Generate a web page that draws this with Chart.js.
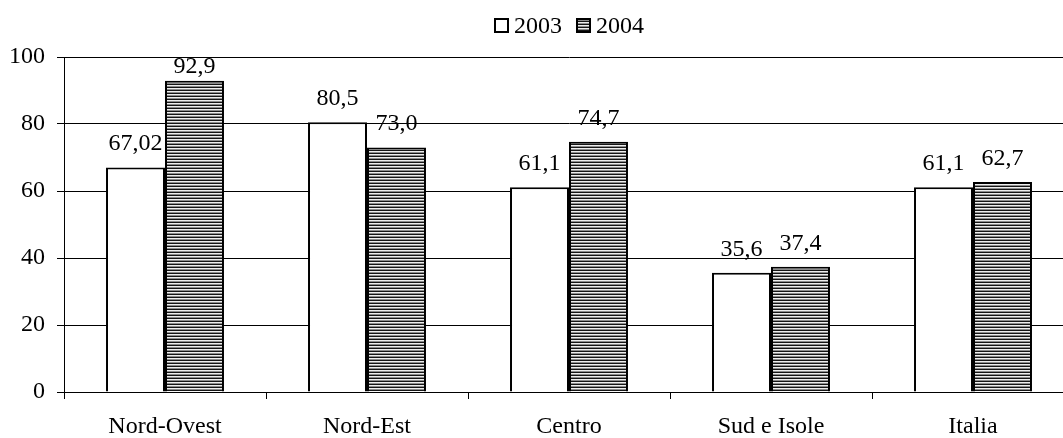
<!DOCTYPE html>
<html>
<head>
<meta charset="utf-8">
<script src="https://cdn.jsdelivr.net/npm/chart.js@4"></script>
<style>
  html, body { margin: 0; padding: 0; background: #fff; overflow: hidden; }
  #wrap { width: 1076px; height: 438px; }
</style>
</head>
<body>
<div id="wrap"><canvas id="c" width="1076" height="438"></canvas></div>
<script>
// Categories and values
const categories = ["Nord-Ovest", "Nord-Est", "Centro", "Sud e Isole", "Italia"];
const values2003 = [67.02, 80.5, 61.1, 35.6, 61.1];
const values2004 = [92.9, 73.0, 74.7, 37.4, 62.7];
// decimals shown in each value label
const decimals2003 = [2, 1, 1, 1, 1];
const decimals2004 = [1, 1, 1, 1, 1];
const seriesNames = ["2003", "2004"];
const yTicks = [0, 20, 40, 60, 80, 100];

const FONT = "'Liberation Serif', 'Times New Roman', serif";
const FS = 24;

// horizontal-stripe fill for the 2004 bars
function stripePattern() {
  const p = document.createElement('canvas');
  p.width = 4; p.height = 3;
  const g = p.getContext('2d');
  g.fillStyle = '#151515'; g.fillRect(0, 0, 4, 1);
  g.fillStyle = '#eeeeee'; g.fillRect(0, 1, 4, 1);
  g.fillStyle = '#8c8c8c'; g.fillRect(0, 2, 4, 1);
  return document.getElementById('c').getContext('2d').createPattern(p, 'repeat');
}
const stripes = stripePattern();

function fmt(v, d) { return v.toFixed(d).replace('.', ','); }

// value labels above each bar
const valueLabels = {
  id: 'valueLabels',
  afterDatasetsDraw(chart) {
    const ctx = chart.ctx;
    const top = chart.chartArea.top;
    ctx.save();
    ctx.font = FS + 'px ' + FONT;
    ctx.fillStyle = '#000';
    ctx.textAlign = 'center';
    ctx.textBaseline = 'alphabetic';
    const decs = [decimals2003, decimals2004];
    chart.data.datasets.forEach((ds, di) => {
      chart.getDatasetMeta(di).data.forEach((bar, i) => {
        const y = Math.max(bar.y - 17, top + 16);
        ctx.fillText(fmt(ds.data[i], decs[di][i]), bar.x, y);
      });
    });
    ctx.restore();
  }
};

// legend row centred over the plot area
const topLegend = {
  id: 'topLegend',
  afterDraw(chart) {
    const ctx = chart.ctx;
    const a = chart.chartArea;
    ctx.save();
    ctx.font = FS + 'px ' + FONT;
    ctx.textBaseline = 'alphabetic';
    ctx.textAlign = 'left';
    const box = 15, gapText = 5, gapItem = 14;
    const widths = seriesNames.map(n => ctx.measureText(n).width);
    const total = widths.reduce((s, w) => s + box + gapText + w, 0) + gapItem * (seriesNames.length - 1);
    let x = (a.left + a.right) / 2 - total / 2;
    const fills = ['#ffffff', stripes];
    seriesNames.forEach((n, i) => {
      ctx.fillStyle = fills[i];
      ctx.fillRect(x, 18, box, box);
      ctx.lineWidth = 2;
      ctx.strokeStyle = '#000';
      ctx.strokeRect(x + 1, 19, box - 2, box - 2);
      ctx.fillStyle = '#000';
      ctx.fillText(n, x + box + gapText, 33);
      x += box + gapText + widths[i] + gapItem;
    });
    ctx.restore();
  }
};

new Chart(document.getElementById('c'), {
  type: 'bar',
  data: {
    labels: categories,
    datasets: [
      { label: seriesNames[0], data: values2003, backgroundColor: '#ffffff', borderColor: '#000', borderWidth: 2 },
      { label: seriesNames[1], data: values2004, backgroundColor: stripes, borderColor: '#000', borderWidth: 2 }
    ]
  },
  options: {
    responsive: false,
    animation: false,
    events: [],
    layout: { padding: { top: 57, right: 2, left: 0, bottom: 0 } },
    datasets: { bar: { categoryPercentage: 0.584, barPercentage: 1.0 } },
    plugins: { legend: { display: false }, tooltip: { enabled: false } },
    scales: {
      x: {
        grid: { offset: true, drawOnChartArea: false, drawTicks: true, tickLength: 7, color: '#000', lineWidth: 1 },
        border: { display: true, color: '#000', width: 1 },
        ticks: { color: '#000', font: { family: FONT, size: FS }, padding: 13, maxRotation: 0, autoSkip: false },
        afterFit(s) { s.height = 46; }
      },
      y: {
        min: yTicks[0],
        max: yTicks[yTicks.length - 1],
        afterBuildTicks(s) { s.ticks = yTicks.map(v => ({ value: v })); },
        grid: { color: '#000', lineWidth: 1, tickLength: 7, drawTicks: true },
        border: { display: true, color: '#000', width: 1 },
        ticks: { color: '#000', font: { family: FONT, size: FS }, padding: 12 },
        afterFit(s) { s.width = 64; }
      }
    }
  },
  plugins: [valueLabels, topLegend]
});
</script>
</body>
</html>
